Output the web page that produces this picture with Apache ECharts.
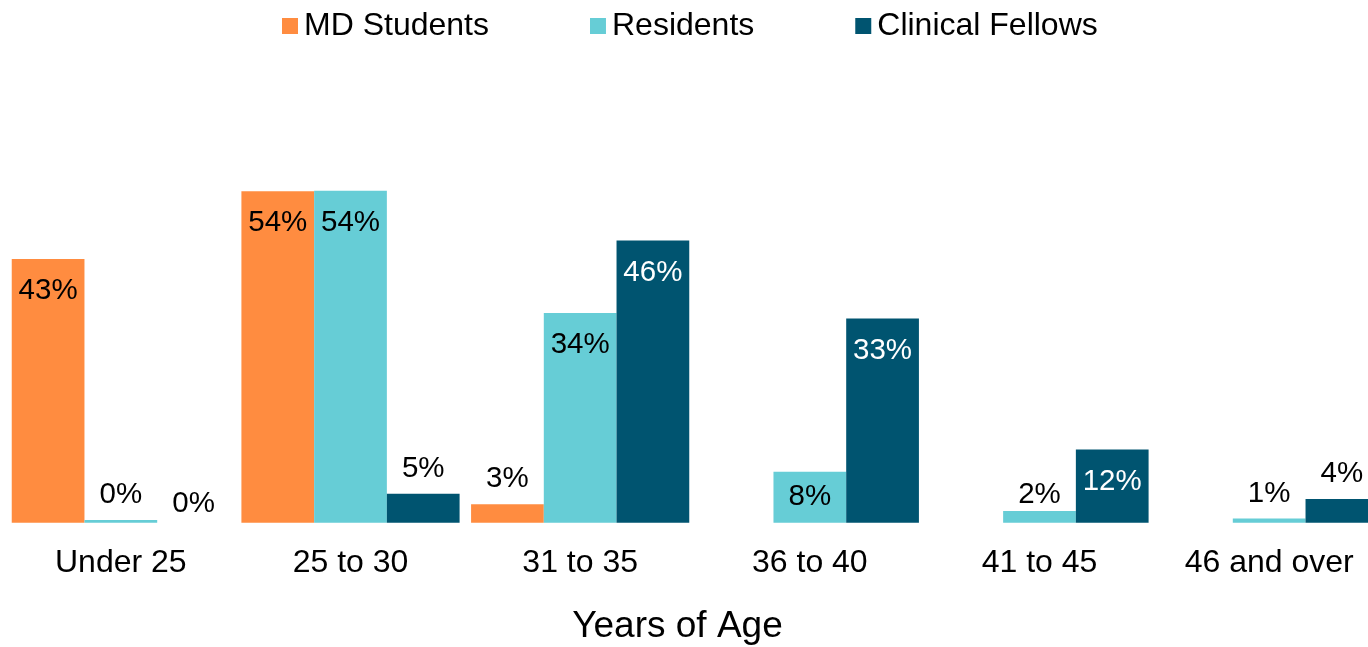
<!DOCTYPE html>
<html>
<head>
<meta charset="utf-8">
<script src="https://cdn.jsdelivr.net/npm/echarts@6/dist/echarts.min.js"></script>
<style>
html,body{margin:0;padding:0;background:#fff;overflow:hidden;width:1368px;height:647px;}
#chart{width:1384px;height:647px;}
</style>
</head>
<body>
<div id="chart"></div>
<script>
var categories = ['Under 25', '25 to 30', '31 to 35', '36 to 40', '41 to 45', '46 and over'];
var seriesNames = ['MD Students', 'Residents', 'Clinical Fellows'];
var mdStudents = [42.9, 53.9, 3.0, null, null, null];
var residents = [0.44, 54.0, 34.1, 8.3, 1.9, 0.7];
var clinicalFellows = [0, 4.7, 45.9, 33.2, 11.9, 3.85];
var colors = ['#FF8C40', '#66CDD6', '#005470'];

var FONT = 'Liberation Sans, Arial, sans-serif';
var INSIDE_MIN = 6;
// small manual nudges of labels, as in the reference (series index, category index, dy)
var labelNudges = [[1, 4, 9], [2, 0, 6], [1, 3, -7]];

function nudgeFor(si, ci) {
  var dy = 0;
  labelNudges.forEach(function (n) { if (n[0] === si && n[1] === ci) dy = n[2]; });
  return dy;
}

function buildData(values, insideColor, si) {
  return values.map(function (v, ci) {
    if (v === null) return null;
    var item = { value: v };
    var dy = nudgeFor(si, ci);
    if (v >= INSIDE_MIN) {
      item.label = { position: 'insideTop', distance: 17, color: insideColor, offset: [0, dy] };
    } else {
      item.label = { position: 'top', distance: 10, color: '#000', offset: [0, dy] };
    }
    return item;
  });
}

var chart = echarts.init(document.getElementById('chart'), null, { renderer: 'canvas' });
var valueSets = [mdStudents, residents, clinicalFellows];
var insideColors = ['#000', '#000', '#fff'];

var series = seriesNames.map(function (name, i) {
  return {
    name: name,
    type: 'bar',
    barGap: '0%',
    barCategoryGap: '5%',
    itemStyle: { color: colors[i] },
    label: {
      show: true,
      fontFamily: FONT,
      fontSize: 29.5,
      formatter: function (p) { return Math.round(p.value) + '%'; }
    },
    data: buildData(valueSets[i], insideColors[i], i)
  };
});

chart.setOption({
  animation: false,
  textStyle: { fontFamily: FONT },
  legend: {
    top: 5,
    left: 277,
    itemWidth: 16,
    itemHeight: 16,
    itemGap: 101,
    icon: 'rect',
    textStyle: { fontFamily: FONT, fontSize: 32, color: '#000', padding: [0, 0, 0, 1] },
    data: seriesNames
  },
  grid: { left: 6, top: 153.8, right: 0, height: 368.9, containLabel: false, outerBoundsMode: 'none' },
  xAxis: {
    type: 'category',
    data: categories,
    axisLine: { show: false },
    axisTick: { show: false },
    axisLabel: { fontFamily: FONT, fontSize: 32, color: '#000', margin: 24 },
    name: 'Years of Age',
    nameLocation: 'middle',
    nameGap: 86,
    nameTextStyle: { fontFamily: FONT, fontSize: 37, color: '#000', padding: [0, 35, 0, 0] }
  },
  yAxis: {
    type: 'value',
    min: 0,
    max: 60,
    show: false,
    splitLine: { show: false }
  },
  series: series
});
</script>
</body>
</html>
